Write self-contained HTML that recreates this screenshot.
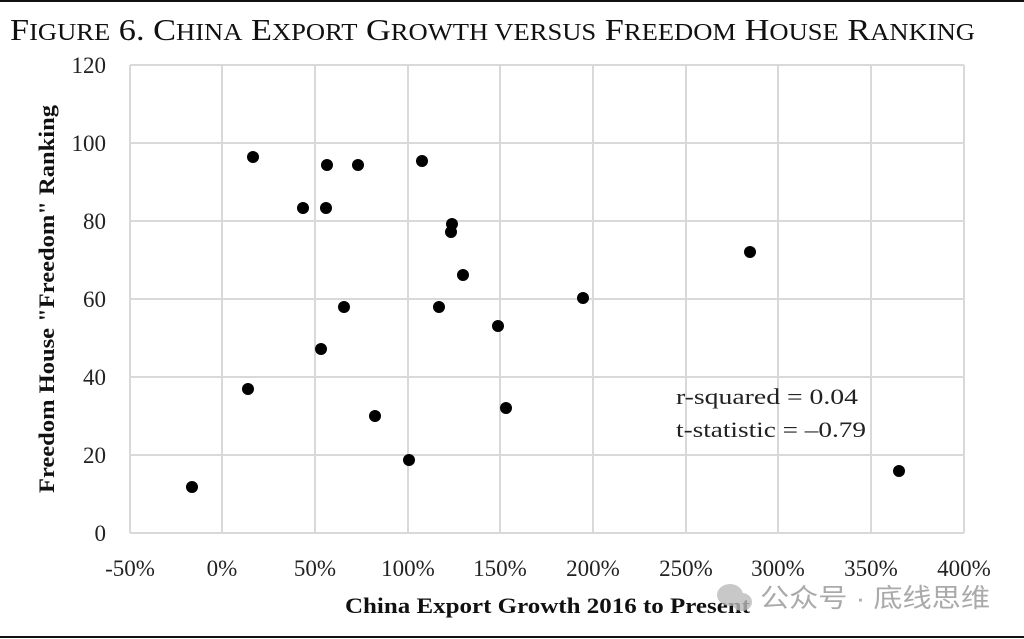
<!DOCTYPE html>
<html><head><meta charset="utf-8"><style>
html,body{margin:0;padding:0;background:#fff;}
svg{display:block;font-family:"Liberation Serif",serif;}
</style></head><body>
<svg width="1024" height="639" viewBox="0 0 1024 639" xmlns="http://www.w3.org/2000/svg">
<rect width="1024" height="639" fill="#fff"/>
<line x1="0" y1="1" x2="1024" y2="1" stroke="#111" stroke-width="2"/>
<line x1="0" y1="637" x2="1024" y2="637" stroke="#111" stroke-width="2"/>
<text x="10" y="40" font-size="31" fill="#111" textLength="965" lengthAdjust="spacingAndGlyphs">F<tspan font-size="24">IGURE</tspan> 6. C<tspan font-size="24">HINA</tspan> E<tspan font-size="24">XPORT</tspan> G<tspan font-size="24">ROWTH VERSUS</tspan> F<tspan font-size="24">REEDOM</tspan> H<tspan font-size="24">OUSE</tspan> R<tspan font-size="24">ANKING</tspan></text>
<g stroke="#d9d9d9" stroke-width="2" fill="none">
<line x1="130" y1="65" x2="964" y2="65"/><line x1="130" y1="143" x2="964" y2="143"/><line x1="130" y1="221" x2="964" y2="221"/><line x1="130" y1="299" x2="964" y2="299"/><line x1="130" y1="377" x2="964" y2="377"/><line x1="130" y1="455" x2="964" y2="455"/><line x1="130" y1="533" x2="964" y2="533"/>
<line x1="130" y1="65" x2="130" y2="533"/><line x1="222" y1="65" x2="222" y2="533"/><line x1="315" y1="65" x2="315" y2="533"/><line x1="408" y1="65" x2="408" y2="533"/><line x1="500" y1="65" x2="500" y2="533"/><line x1="593" y1="65" x2="593" y2="533"/><line x1="686" y1="65" x2="686" y2="533"/><line x1="778" y1="65" x2="778" y2="533"/><line x1="871" y1="65" x2="871" y2="533"/><line x1="964" y1="65" x2="964" y2="533"/>
</g>
<g font-size="23" fill="#222" text-anchor="end">
<text x="106" y="73">120</text><text x="106" y="151">100</text><text x="106" y="229">80</text><text x="106" y="307">60</text><text x="106" y="385">40</text><text x="106" y="463">20</text><text x="106" y="541">0</text>
</g>
<g font-size="23" fill="#222" text-anchor="middle">
<text x="130" y="576">-50%</text><text x="222" y="576">0%</text><text x="315" y="576">50%</text><text x="408" y="576">100%</text><text x="500" y="576">150%</text><text x="593" y="576">200%</text><text x="686" y="576">250%</text><text x="778" y="576">300%</text><text x="871" y="576">350%</text><text x="964" y="576">400%</text>
</g>
<text x="345" y="613" font-size="22" font-weight="bold" fill="#111" textLength="405" lengthAdjust="spacingAndGlyphs">China Export Growth 2016 to Present</text>
<text transform="translate(54,493) rotate(-90)" font-size="22" font-weight="bold" fill="#111" textLength="388" lengthAdjust="spacingAndGlyphs">Freedom House "Freedom" Ranking</text>
<text x="676" y="404" font-size="22" fill="#222" textLength="182" lengthAdjust="spacingAndGlyphs">r-squared = 0.04</text>
<text x="676" y="437" font-size="22" fill="#222" textLength="190" lengthAdjust="spacingAndGlyphs">t-statistic = –0.79</text>
<g fill="#000">
<circle cx="192" cy="487" r="6"/><circle cx="253" cy="157" r="6"/><circle cx="248" cy="389" r="6"/><circle cx="303" cy="208" r="6"/><circle cx="327" cy="165" r="6"/><circle cx="326" cy="208" r="6"/><circle cx="358" cy="165" r="6"/><circle cx="344" cy="307" r="6"/><circle cx="321" cy="349" r="6"/><circle cx="375" cy="416" r="6"/><circle cx="409" cy="460" r="6"/><circle cx="422" cy="161" r="6"/><circle cx="452" cy="224" r="6"/><circle cx="451" cy="232" r="6"/><circle cx="463" cy="275" r="6"/><circle cx="439" cy="307" r="6"/><circle cx="498" cy="326" r="6"/><circle cx="506" cy="408" r="6"/><circle cx="583" cy="298" r="6"/><circle cx="750" cy="252" r="6"/><circle cx="899" cy="471" r="6"/>
</g>
<g fill="#bbb" opacity="0.8">
<ellipse cx="730" cy="595" rx="13" ry="11"/><ellipse cx="742" cy="602" rx="10" ry="9"/>
</g>
<text x="760" y="607" font-size="26" fill="#aaa" font-family="'Liberation Sans','Noto Sans CJK SC',sans-serif" textLength="230" lengthAdjust="spacingAndGlyphs">公众号 · 底线思维</text>
</svg>
</body></html>
